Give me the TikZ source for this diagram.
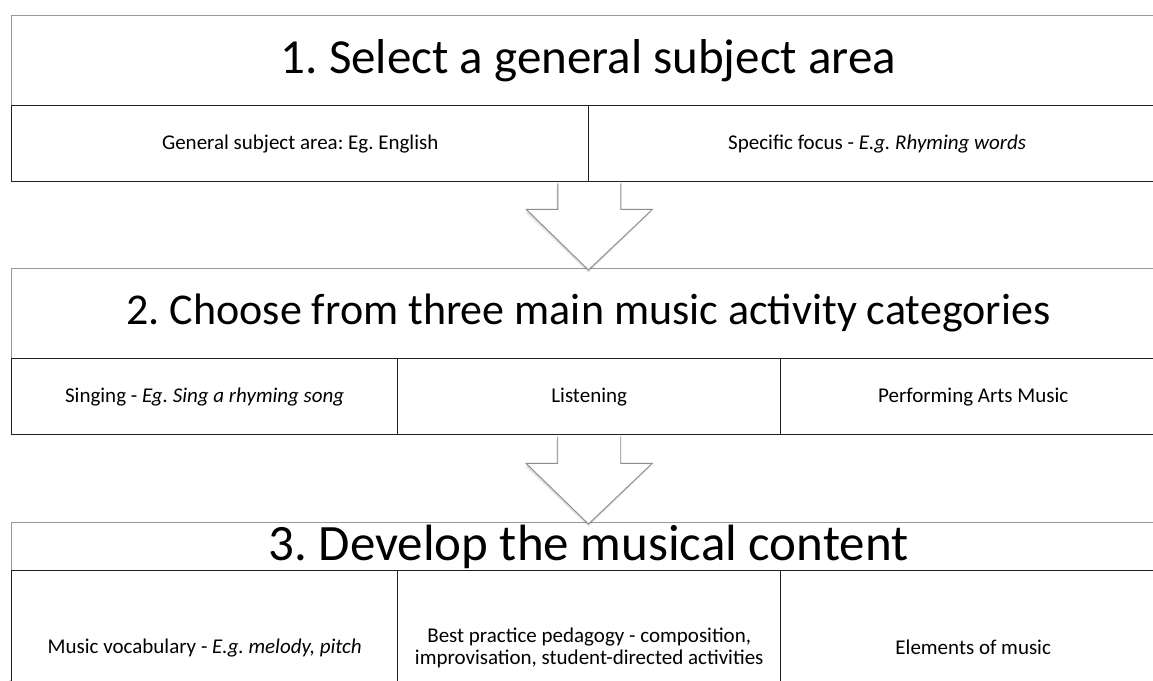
\documentclass[tikz,border=0pt]{standalone}
\usepackage{fontspec}
\setmainfont{Carlito}
\usetikzlibrary{calc,backgrounds}
\begin{document}
\frenchspacing
\begin{tikzpicture}[x=1pt,y=-1pt,
  titlebox/.style={draw=black!40, line width=0.9pt, fill=white, inner sep=0pt, anchor=north west},
  cellbox/.style={draw=black!88, line width=1.4pt, fill=white, inner sep=0pt, anchor=north west,
    align=center, font=\fontsize{21}{22}\selectfont},
  arrowfill/.style={fill=white},
  arrowline/.style={draw=black!45, line width=0.9pt, line join=miter},
  shade/.style={fill=black, opacity=0.06}
]
\useasboundingbox (0,0) rectangle (1153,680);
\fill[white] (0,0) rectangle (1153,680);

% Box 1
\node[titlebox, minimum width=1154pt, minimum height=90pt, font=\fontsize{49}{54}\selectfont] (t1) at (11,15) {1. Select a general subject area};
\node[cellbox, minimum width=577pt, minimum height=76pt] (c11) at (11,105) {General subject area: Eg. English};
\node[cellbox, minimum width=577pt, minimum height=76pt] (c12) at (588,105) {Specific focus - \textit{E.g. Rhyming words}};

% Box 2
\node[titlebox, minimum width=1154pt, minimum height=90pt, font=\fontsize{44}{50}\selectfont] (t2) at (11,268) {2. Choose from three main music activity categories};
\node[cellbox, minimum width=386pt, minimum height=76pt] (c21) at (11,358) {Singing - \textit{Eg. Sing a rhyming song}};
\node[cellbox, minimum width=383pt, minimum height=76pt] (c22) at (397,358) {Listening};
\node[cellbox, minimum width=385pt, minimum height=76pt] (c23) at (780,358) {Performing Arts Music};

% Box 3
\node[titlebox, minimum width=1154pt, minimum height=48pt, font=\fontsize{51}{56}\selectfont] (t3) at (11,522) {\raisebox{5pt}{3. Develop the musical content}};
\node[cellbox, minimum width=386pt, minimum height=154pt] (c31) at (11,570) {Music vocabulary - \textit{E.g. melody, pitch}};
\node[cellbox, minimum width=383pt, minimum height=154pt] (c32) at (397,570) {Best practice pedagogy - composition,\\improvisation, student-directed activities};
\node[cellbox, minimum width=385pt, minimum height=154pt] (c33) at (780,570) {Elements of music};

% soft shadows
\begin{scope}[on background layer]
  \foreach \d in {1,2,3,4} {
    \fill[shade] ($(t1.north west)+(-\d*0.6,\d)$) rectangle ($(c12.south east)+(0,\d*1.3)$);
    \fill[shade] ($(t2.north west)+(-\d*0.6,\d)$) rectangle ($(c23.south east)+(0,\d*1.3)$);
    \fill[shade] ($(t3.north west)+(-\d*0.6,\d)$) rectangle ($(c33.south east)+(0,\d*1.3)$);
  }
\end{scope}

% Arrow 1
\coordinate (a1) at ($(c11.south east)+(0,1)$);
\coordinate (p1) at ($(t2.north)+(0,2)$);
\foreach \d in {1,2,3} {
  \fill[shade] ($(a1)+(-31.5-\d*0.5,\d)$) -- ($(a1)+(-31.5-\d*0.5,26+\d)$) -- ($(a1)+(-63-\d*0.5,26+\d)$) -- ($(p1)+(0,\d)$) -- ($(a1)+(63-\d*0.5,26+\d)$) -- ($(a1)+(31.5-\d*0.5,26+\d)$) -- ($(a1)+(31.5-\d*0.5,\d)$) -- cycle;
}
\fill[arrowfill] ($(a1)+(-31.5,0)$) -- ($(a1)+(-31.5,26)$) -- ($(a1)+(-63,26)$) -- (p1) -- ($(a1)+(63,26)$) -- ($(a1)+(31.5,26)$) -- ($(a1)+(31.5,0)$) -- cycle;
\draw[arrowline] ($(a1)+(-31.5,0)$) -- ($(a1)+(-31.5,26)$) -- ($(a1)+(-63,26)$) -- (p1) -- ($(a1)+(63,26)$) -- ($(a1)+(31.5,26)$) -- ($(a1)+(31.5,0)$);

% Arrow 2
\coordinate (a2) at ($(c22.south)+(0,1)$);
\coordinate (p2) at ($(t3.north)+(0,2)$);
\foreach \d in {1,2,3} {
  \fill[shade] ($(a2)+(-31.5-\d*0.5,\d)$) -- ($(a2)+(-31.5-\d*0.5,27+\d)$) -- ($(a2)+(-63-\d*0.5,27+\d)$) -- ($(p2)+(0,\d)$) -- ($(a2)+(63-\d*0.5,27+\d)$) -- ($(a2)+(31.5-\d*0.5,27+\d)$) -- ($(a2)+(31.5-\d*0.5,\d)$) -- cycle;
}
\fill[arrowfill] ($(a2)+(-31.5,0)$) -- ($(a2)+(-31.5,27)$) -- ($(a2)+(-63,27)$) -- (p2) -- ($(a2)+(63,27)$) -- ($(a2)+(31.5,27)$) -- ($(a2)+(31.5,0)$) -- cycle;
\draw[arrowline] ($(a2)+(-31.5,0)$) -- ($(a2)+(-31.5,27)$) -- ($(a2)+(-63,27)$) -- (p2) -- ($(a2)+(63,27)$) -- ($(a2)+(31.5,27)$) -- ($(a2)+(31.5,0)$);
\end{tikzpicture}
\end{document}
